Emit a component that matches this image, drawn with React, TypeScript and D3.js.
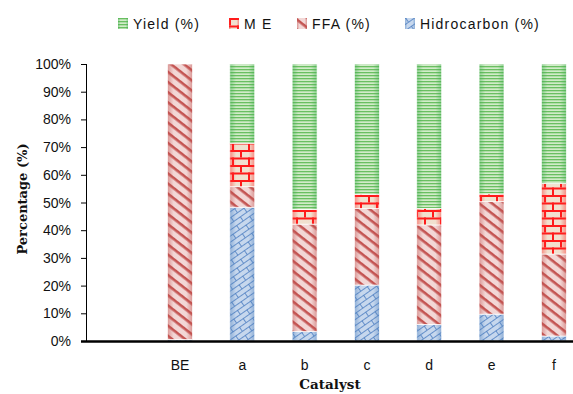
import React from "react";
import * as d3 from "d3";

const categories = ["", "BE", "a", "b", "c", "d", "e", "f"];
const hidrocarbon = [0, 0.5, 48.3, 3.4, 20.2, 6.0, 9.7, 1.8];
const ffa = [0, 99.5, 7.4, 38.8, 27.7, 35.9, 40.6, 29.6];
const me = [0, 0, 15.7, 5.3, 5.1, 6.0, 2.8, 25.5];
const yieldPct = [0, 0, 28.6, 52.5, 47.0, 52.1, 46.9, 43.1];
const yTicks = [0, 10, 20, 30, 40, 50, 60, 70, 80, 90, 100];

const seriesKeys = ["hidro", "ffa", "me", "yield"];
const seriesInfo: Record<string, { label: string; pattern: string; edge: string }> = {
  yield: { label: "Yield (%)", pattern: "pYield", edge: "#3fae4f" },
  me: { label: "M E", pattern: "pME", edge: "#ff2a2a" },
  ffa: { label: "FFA  (%)", pattern: "pFFA", edge: "#c0504d" },
  hidro: { label: "Hidrocarbon (%)", pattern: "pHidro", edge: "#4f81bd" },
};
const legendOrder = ["yield", "me", "ffa", "hidro"];
const legendX = [118, 229, 297, 405];

const W = 573;
const H = 394;

export default function App() {
  const rows = categories.map((c, i) => ({
    cat: c,
    hidro: hidrocarbon[i],
    ffa: ffa[i],
    me: me[i],
    yield: yieldPct[i],
  }));

  const x = d3
    .scaleBand<string>()
    .domain(categories)
    .range([86.5, 585])
    .paddingInner(0.6)
    .paddingOuter(0.3);
  const y = d3.scaleLinear().domain([0, 100]).range([341, 64]);

  const stacked = d3.stack<any>().keys(seriesKeys)(rows);
  const font = "'Liberation Sans', Arial, sans-serif";
  const serif = "'DejaVu Serif', 'Liberation Serif', serif";

  return (
    <svg width={W} height={H} style={{ position: "absolute", left: 0, top: 0, background: "#fff" }}>
      <defs>
        <pattern id="pYield" patternUnits="userSpaceOnUse" width="4" height="3">
          <rect width="4" height="3" fill="#d9efcf" />
          <rect y="0" width="4" height="1.3" fill="#6cc062" />
        </pattern>
        <pattern id="pME" patternUnits="userSpaceOnUse" width="16" height="15">
          <rect width="16" height="15" fill="#f0ead8" />
          <rect y="0" width="16" height="2" fill="#ff1a1a" />
          <rect y="7.5" width="16" height="2" fill="#ff1a1a" />
          <rect x="0" y="0" width="2" height="7.5" fill="#ff1a1a" />
          <rect x="8" y="7.5" width="2" height="7.5" fill="#ff1a1a" />
        </pattern>
        <pattern id="pFFA" patternUnits="userSpaceOnUse" width="8" height="8" patternTransform="rotate(38)">
          <rect width="8" height="8" fill="#f5dedd" />
          <rect y="0" width="8" height="2.6" fill="#c45553" />
        </pattern>
        <pattern id="pHidro" patternUnits="userSpaceOnUse" width="16" height="10" patternTransform="rotate(-35)">
          <rect width="16" height="10" fill="#cddcf0" />
          <rect y="0" width="16" height="0.9" fill="#5a88c6" />
          <rect x="0" y="0" width="0.9" height="5" fill="#5a88c6" />
          <rect y="5" width="16" height="0.9" fill="#5a88c6" />
          <rect x="8" y="5" width="0.9" height="5" fill="#5a88c6" />
        </pattern>
        {seriesKeys.map((k) => (
          <linearGradient key={k} id={"g" + k} x1="0" x2="1" y1="0" y2="0">
            <stop offset="0" stopColor={seriesInfo[k].edge} stopOpacity="0.5" />
            <stop offset="0.25" stopColor={seriesInfo[k].edge} stopOpacity="0.05" />
            <stop offset="0.75" stopColor={seriesInfo[k].edge} stopOpacity="0.05" />
            <stop offset="1" stopColor={seriesInfo[k].edge} stopOpacity="0.5" />
          </linearGradient>
        ))}
      </defs>

      {/* legend */}
      {legendOrder.map((k, i) => (
        <g key={k} transform={`translate(${legendX[i]},18)`}>
          <rect width="10" height="11" fill={`url(#${seriesInfo[k].pattern})`} />
          <rect width="10" height="11" fill={`url(#g${k})`} />
          <text x="15" y="10.5" fontFamily={font} fontSize="14" letterSpacing="1.2" fill="#111">
            {seriesInfo[k].label}
          </text>
        </g>
      ))}

      {/* y axis */}
      <line x1="86.5" x2="86.5" y1={y(100)} y2={y(0)} stroke="#000" strokeWidth="1" />
      {yTicks.map((t) => (
        <g key={t}>
          <line x1="81" x2="86.5" y1={y(t) + 0.5} y2={y(t) + 0.5} stroke="#000" strokeWidth="1" />
          <text x="71" y={y(t) + 5} textAnchor="end" fontFamily={font} fontSize="14" fill="#111">
            {t}%
          </text>
        </g>
      ))}

      {/* bars */}
      {stacked.map((s) => (
        <g key={s.key}>
          {s.map((d, i) => {
            const h = y(d[0]) - y(d[1]);
            if (h <= 0) return null;
            const bx = x(categories[i]) as number;
            return (
              <g key={i}>
                <rect x={bx} y={y(d[1])} width={x.bandwidth()} height={h} fill={`url(#${seriesInfo[s.key].pattern})`} />
                <rect
                  x={bx}
                  y={y(d[1])}
                  width={x.bandwidth()}
                  height={h}
                  fill={`url(#g${s.key})`}
                  stroke="#fff"
                  strokeWidth="0.7"
                />
              </g>
            );
          })}
        </g>
      ))}

      {/* x axis */}
      <line x1="81" x2={W} y1="341.5" y2="341.5" stroke="#000" strokeWidth="2.5" />
      {categories.map((c) => (
        <text
          key={c || "empty"}
          x={(x(c) as number) + x.bandwidth() / 2}
          y="370"
          textAnchor="middle"
          fontFamily={font}
          fontSize="14"
          fill="#111"
        >
          {c}
        </text>
      ))}

      <text x="330" y="389" textAnchor="middle" fontFamily={serif} fontSize="13.5" fontWeight="bold" fill="#111">
        Catalyst
      </text>
      <text
        transform="translate(27,199) rotate(-90)"
        textAnchor="middle"
        fontFamily={serif}
        fontSize="13"
        fontWeight="bold"
        fill="#111"
      >
        Percentage (%)
      </text>
    </svg>
  );
}
